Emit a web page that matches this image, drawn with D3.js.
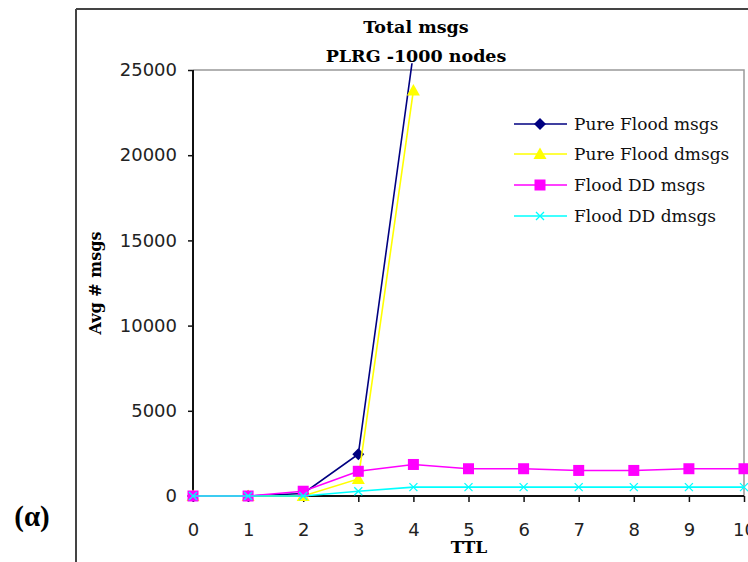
<!DOCTYPE html>
<html><head><meta charset="utf-8">
<script src="https://cdn.jsdelivr.net/npm/d3@7"></script>
<style>
html,body{margin:0;padding:0;background:#fff;}
svg{display:block;}
</style></head>
<body>
<script>
const ttl = [0,1,2,3,4,5,6,7,8,9,10];
const xTicks = [0,1,2,3,4,5,6,7,8,9,10];
const yTicks = [0,5000,10000,15000,20000,25000];
const seriesNames = ["Pure Flood msgs","Pure Flood dmsgs","Flood DD msgs","Flood DD dmsgs"];
const pureFloodMsgs  = [0,0,150,2450,26000];
const pureFloodDmsgs = [0,0,0,1000,23800];
const floodDDMsgs    = [0,0,280,1450,1850,1600,1600,1500,1500,1600,1600];
const floodDDDmsgs   = [0,0,0,280,520,520,520,520,520,520,520];
const colors = ["#000080","#FFFF00","#FF00FF","#00FFFF"];
const markers = ["diamond","triangle","square","x"];

const W=748,H=562;
const svg=d3.select("body").append("svg").attr("width",W).attr("height",H);
const x=d3.scaleLinear().domain([0,10]).range([193,744]);
const y=d3.scaleLinear().domain([0,25000]).range([496,70]);

// outer frame
svg.append("path").attr("d","M76,9H748M76,9V562").attr("fill","none").attr("stroke","#444").attr("stroke-width",2);

// plot area border (top & right gray)
svg.append("path").attr("d",`M${x(0)},${y(25000)}H${x(10)}V${y(0)}`).attr("fill","none").attr("stroke","#999").attr("stroke-width",1.5);

// axes
const yAxis=d3.axisLeft(y).tickValues(yTicks).tickSize(5).tickPadding(11).tickFormat(d3.format("d"));
const gy=svg.append("g").attr("transform",`translate(${x(0)},0)`).call(yAxis);
const xAxis=d3.axisBottom(x).tickValues(xTicks).tickSize(6).tickPadding(21).tickFormat(d3.format("d"));
const gx=svg.append("g").attr("transform",`translate(0,${y(0)})`).call(xAxis);
[gx,gy].forEach(g=>{
  g.select(".domain").attr("stroke","#111").attr("stroke-width",2);
  g.selectAll(".tick line").attr("stroke","#111").attr("stroke-width",1.5);
  g.selectAll(".tick text").attr("fill","#222").style("font-family","'DejaVu Sans'").style("font-size","18px");
});
gy.select(".domain").attr("d",`M0,${y(0)}V${y(25000)}`);
gx.select(".domain").attr("d",`M${x(0)},0H${x(10)}`);

// titles
const tf="'DejaVu Serif'";
svg.append("text").attr("x",416).attr("y",33).attr("text-anchor","middle").style("font-family",tf).style("font-weight","bold").style("font-size","17.5px").text("Total msgs");
svg.append("text").attr("x",416).attr("y",62).attr("text-anchor","middle").style("font-family",tf).style("font-weight","bold").style("font-size","17.5px").text("PLRG -1000 nodes");
svg.append("text").attr("transform","translate(101,283) rotate(-90)").attr("text-anchor","middle").style("font-family",tf).style("font-weight","bold").style("font-size","16px").text("Avg # msgs");
svg.append("text").attr("x",469).attr("y",553).attr("text-anchor","middle").style("font-family",tf).style("font-weight","bold").style("font-size","17px").text("TTL");
svg.append("text").attr("x",32).attr("y",526).attr("text-anchor","middle").style("font-family","'Liberation Serif'").style("font-weight","bold").style("font-size","29px").text("(α)");

// clip
svg.append("clipPath").attr("id","clip").append("rect").attr("x",x(0)-8).attr("y",y(25400)).attr("width",W).attr("height",H);

function drawMarker(g,type,color,cx,cy){
  if(type==="diamond"){
    g.append("path").attr("d",`M${cx},${cy-6}L${cx+6},${cy}L${cx},${cy+6}L${cx-6},${cy}Z`).attr("fill",color);
  } else if(type==="triangle"){
    g.append("path").attr("d",`M${cx},${cy-6.5}L${cx+6.5},${cy+5}L${cx-6.5},${cy+5}Z`).attr("fill",color);
  } else if(type==="square"){
    g.append("rect").attr("x",cx-5.5).attr("y",cy-5.5).attr("width",11).attr("height",11).attr("fill",color);
  } else {
    g.append("path").attr("d",`M${cx-4},${cy-4}L${cx+4},${cy+4}M${cx-4},${cy+4}L${cx+4},${cy-4}`).attr("fill","none").attr("stroke",color).attr("stroke-width",1.3);
  }
}

const allSeries=[pureFloodMsgs,pureFloodDmsgs,floodDDMsgs,floodDDDmsgs];
const plot=svg.append("g").attr("clip-path","url(#clip)");
const line=d3.line().x((d,i)=>x(ttl[i])).y(d=>y(d));
allSeries.forEach((vals,si)=>{
  const g=plot.append("g");
  g.append("path").attr("d",line(vals)).attr("fill","none").attr("stroke",colors[si]).attr("stroke-width",1.6);
  vals.forEach((v,i)=>drawMarker(g,markers[si],colors[si],x(ttl[i]),y(v)));
});

// legend
const lg=svg.append("g");
const rowY=[124,154,185,216];
seriesNames.forEach((n,i)=>{
  lg.append("line").attr("x1",514).attr("x2",567).attr("y1",rowY[i]).attr("y2",rowY[i]).attr("stroke",colors[i]).attr("stroke-width",1.6);
  drawMarker(lg,markers[i],colors[i],540,rowY[i]);
  lg.append("text").attr("x",574).attr("y",rowY[i]+6).style("font-family",tf).style("font-size","17px").attr("fill","#111").text(n);
});
</script>
</body></html>
